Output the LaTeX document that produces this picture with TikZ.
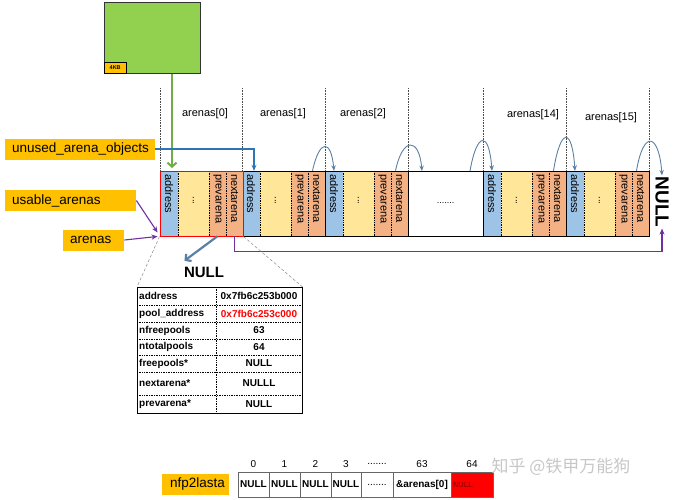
\documentclass[tikz,border=0pt]{standalone}
\usepackage{fontspec}
\setmainfont{Liberation Sans}
\newfontfamily\cjkwm{Noto Sans CJK SC}
\usetikzlibrary{arrows.meta}
\definecolor{boxorange}{HTML}{FFC000}
\definecolor{pagegreen}{HTML}{92D050}
\definecolor{greenptr}{HTML}{70AD47}
\definecolor{addrblue}{HTML}{9DC3E6}
\definecolor{dotyellow}{HTML}{FFE699}
\definecolor{linkorange}{HTML}{F4B183}
\definecolor{arcblue}{HTML}{5B80A5}
\definecolor{ptrblue}{HTML}{2E75B6}
\definecolor{linkpurple}{HTML}{7030A0}
\definecolor{nulred}{HTML}{A00000}
\newcommand\skipdots{.......}
\begin{document}
\begin{tikzpicture}[x=1pt, y=-1pt,
          cell/.style ={minimum height=65, inner sep=0},
          arenabox/.style ={draw, line width=0.9, minimum width=83, minimum height=65, inner sep=0},
          fieldtxt/.style ={rotate=-90, anchor=west, inner sep=0, font=\fontsize{11}{12}\selectfont},
          namebox/.style ={fill=boxorange, minimum height=21, inner xsep=7, inner ysep=0, align=left, anchor=west, font=\fontsize{13.5}{15}\selectfont},
          divline/.style ={densely dotted, black!70, line width=0.6},
          innerline/.style ={densely dotted, line width=0.7},
          linkarc/.style ={draw=arcblue, line width=0.9, -{Stealth[length=5.5pt, width=4.5pt]}},
          purp/.style ={draw=linkpurple, line width=1.1, -{Stealth[length=6pt, width=5pt]}},
          zoomline/.style ={densely dashed, black!45, line width=0.5},
          cellkey/.style ={anchor=west, inner sep=0, font=\bfseries\fontsize{10}{11}\selectfont},
          cellval/.style ={inner sep=0, font=\bfseries\fontsize{10}{11}\selectfont},
          slot/.style ={draw=black!60, minimum height=25, inner sep=0, font=\bfseries\fontsize{10}{11}\selectfont},
          idx/.style ={inner sep=0, font=\fontsize{10}{11}\selectfont}
          ]
\useasboundingbox (0,0) rectangle (680,499);

\node[draw=black!80, line width=0.8, fill=pagegreen, minimum width=96, minimum height=71, anchor=north west, inner sep=0] (page) at (104,2) {};
\node[draw, fill=boxorange, minimum width=22, minimum height=11, anchor=south west, inner sep=0, font=\bfseries\fontsize{5.5}{6}\selectfont] (kb) at (page.south west) {4KB};

\foreach \x in {160,242,325,408,483,566,649}{
\draw[divline] (\x,88) -- (\x,171);
}
\foreach \t/\x/\y in {0/205/114, 1/283/114, 2/363/114, 14/533/115, 15/611/118}{
\node[font=\fontsize{11}{12}\selectfont] (lbl\t) at (\x,\y) {arenas[\t]};
}

\foreach \n/\x/\c in {1/242/black, 2/325/black, 14/483/black, 15/566/black, 0/160/red}{
\node[cell, fill=addrblue, minimum width=18] (a\n-addr) at (\x+9,203.5) {};
\node[cell, fill=dotyellow, minimum width=31] (a\n-dots) at (\x+33.5,203.5) {};
\node[cell, fill=linkorange, minimum width=17] (a\n-prev) at (\x+57.5,203.5) {};
\node[cell, fill=linkorange, minimum width=17] (a\n-next) at (\x+74.5,203.5) {};
\coordinate (a\n-out) at ([xshift=-4pt]a\n-next.north);
\draw[innerline] (a\n-addr.north east) -- (a\n-addr.south east);
\draw[innerline] (a\n-dots.north east) -- (a\n-dots.south east);
\draw[innerline] (a\n-prev.north east) -- (a\n-prev.south east);
\node[fieldtxt] at ([yshift=-3pt]a\n-addr.north) {address};
\node[rotate=-90, inner sep=0, font=\fontsize{10}{11}\selectfont] at ([yshift=3pt]a\n-dots) {...};
\node[fieldtxt] at ([yshift=-3pt]a\n-prev.north) {prevarena};
\node[fieldtxt] at ([yshift=-3pt]a\n-next.north) {nextarena};
\node[arenabox, draw=\c] (a\n) at (\x+41.5,203.5) {};
}
\node[arenabox, fill=white, minimum width=75, font=\fontsize{9}{10}\selectfont] (gap) at (445.5,203.5) {\skipdots};
\coordinate (gapin) at (422,171);
\coordinate (gapout) at (470,171);

\node[rotate=-90, inner sep=1, font=\bfseries\fontsize{19}{20}\selectfont] (null2) at (662,202) {NULL};
\node[font=\bfseries\fontsize{15}{16}\selectfont] (null1) at (204,272) {NULL};

\foreach \s/\t/\h in {a1-out/a2-addr.north/32, a2-out/gapin/34, gapout/a14-addr.north/40, a14-out/a15-addr.north/44, a15-out/null2.west/42}{
\draw[linkarc] (\s) .. controls +(7,-\h) and +(-3,-\h) .. (\t);
}

\node[namebox, text width=136] (unused) at (5,149) {unused\_arena\_objects};
\node[namebox, text width=117] (usable) at (5,200.5) {usable\_arenas};
\node[namebox, text width=47] (arenas) at (63,240) {arenas};

\coordinate (gin) at (172,168);
\draw[greenptr, line width=2, -{Straight Barb[length=4pt, width=9pt]}] (page.south -| gin) -- (gin);
\draw[ptrblue, line width=1.5, -{Stealth[length=6pt, width=5pt]}] (unused.east) -| ([xshift=3pt]a1-addr.north);
\draw[purp] (usable.east) -- ([shift={(-2pt,4pt)}]a0.south west);
\draw[purp] (arenas.east) -- ([xshift=-2pt]a0.south west);
\draw[purp] (a0-next.south) -- ++(0,15) -| (null2.east);
\draw[arcblue, line width=2.2, -{Straight Barb[length=4pt, width=9pt]}] (a0-prev.south) -- ([shift={(4pt,2.5pt)}]null1.north west);

\node[draw, line width=0.6, minimum width=165, minimum height=126, anchor=north west, inner sep=0] (tbl) at (137,287) {};
\draw[zoomline] (a0.south west) -- (tbl.north west);
\draw[zoomline] (a0.south east) -- (tbl.north east);
\draw[innerline] ([xshift=79pt]tbl.north west) -- ([xshift=79pt]tbl.south west);
\foreach \y in {305,322,339,355,372,395}{
\draw[innerline] (137,\y) -- (302,\y);
}
\foreach \y/\k/\v [count=\r] in {296/address/0x7fb6c253b000, 313.5/pool\_address/{\textcolor{red}{0x7fb6c253c000}}, 330.5/nfreepools/63, 347/ntotalpools/64, 363.5/freepools*/NULL, 383.5/nextarena*/NULLL, 404/prevarena*/NULL}{
\node[cellkey] (key\r) at (139,\y) {\k};
\node[cellval] (val\r) at (259,\y) {\v};
}

\node[namebox, text width=51, inner xsep=8] (nfp) at (162,484) {nfp2lasta};
\foreach \i/\a/\b/\t/\h in {0/238/269/NULL/0, 1/269/300/NULL/1, 2/300/331/NULL/2, 3/331/361/NULL/3, 4/361/393/{\mdseries\skipdots}/\skipdots, 5/393/451/{\&arenas[0]}/63}{
\node[slot, minimum width={\b-\a}] (s\i) at ({(\a+\b)/2},484.5) {\t};
\node[idx] (n\i) at ({(\a+\b)/2},464) {\h};
}
\node[slot, fill=red, minimum width=42] (s6) at (472,484.5) {};
\node[anchor=west, inner sep=0, text=nulred, font=\bfseries\fontsize{7.5}{8}\selectfont] (s6txt) at ([xshift=2pt]s6.west) {NULL};
\node[idx] (n6) at (472,464) {64};

\node[text=black!22, inner sep=0, font=\cjkwm\fontsize{17}{18}\selectfont] (wm) at (561,467) {知乎 @铁甲万能狗};
\end{tikzpicture}
\end{document}
